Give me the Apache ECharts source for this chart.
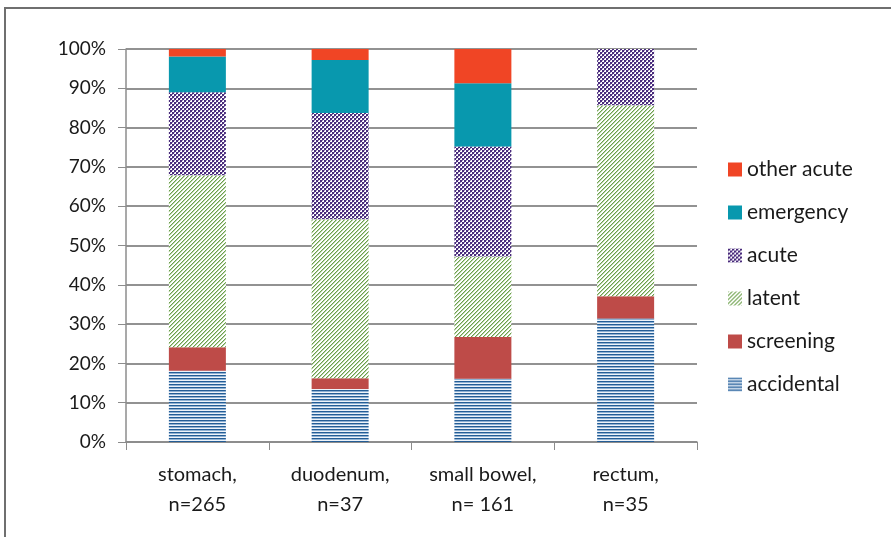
<!DOCTYPE html>
<html>
<head>
<meta charset="utf-8">
<script src="https://cdn.jsdelivr.net/npm/echarts@6/dist/echarts.min.js"></script>
<style>
  html, body { margin: 0; padding: 0; background: #fff; }
  #chart { width: 891px; height: 537px; }
</style>
</head>
<body>
<div id="chart"></div>
<script>
// Site of the lesion and how it was found (percent of cases per site)
const categories = ['stomach,\nn=265', 'duodenum,\nn=37', 'small bowel,\nn= 161', 'rectum,\nn=35'];

const accidental = [18.1, 13.5, 16.1, 31.4];
const screening  = [6.0, 2.7, 10.6, 5.7];
const latent     = [43.8, 40.5, 20.5, 48.6];
const acute      = [21.1, 27.0, 28.0, 14.3];
const emergency  = [9.1, 13.5, 16.1, 0];
const otherAcute = [1.9, 2.8, 8.7, 0];

const yTicks = { min: 0, max: 100, interval: 10 };

const FONT = 'Lato, "Open Sans", sans-serif';

// Small repeating fills for the hatched series
function makePattern(w, h, paint) {
  const c = document.createElement('canvas');
  c.width = w; c.height = h;
  const ctx = c.getContext('2d');
  ctx.fillStyle = '#ffffff';
  ctx.fillRect(0, 0, w, h);
  paint(ctx);
  return { image: c, repeat: 'repeat' };
}

// horizontal blue stripes
const stripeFill = makePattern(1, 3, ctx => {
  ctx.fillStyle = '#245d96'; ctx.fillRect(0, 0, 1, 1);
  ctx.fillStyle = '#8fb1d3'; ctx.fillRect(0, 1, 1, 1);
  ctx.fillStyle = '#eef3f9'; ctx.fillRect(0, 2, 1, 1);
});

// green upward diagonals
const diagFill = makePattern(4, 4, ctx => {
  for (let i = 0; i < 4; i++) {
    ctx.fillStyle = '#6b9f4b'; ctx.fillRect(i, 3 - i, 1, 1);
    ctx.fillStyle = '#b9d3a8'; ctx.fillRect(i, (4 - i) % 4, 1, 1);
  }
});

// purple checkerboard
const checkFill = makePattern(4, 4, ctx => {
  ctx.fillStyle = '#4a2c7c';
  ctx.fillRect(0, 0, 2, 2);
  ctx.fillRect(2, 2, 2, 2);
  ctx.fillStyle = '#9c8bbb';
  ctx.fillRect(2, 0, 1, 1);
  ctx.fillRect(0, 2, 1, 1);
});

function bar(name, data, color) {
  return {
    name, type: 'bar', stack: 'total', data,
    barWidth: 57,
    itemStyle: { color },
    emphasis: { disabled: true }
  };
}

const chart = echarts.init(document.getElementById('chart'), null, { renderer: 'canvas' });

chart.setOption({
  animation: false,
  backgroundColor: '#ffffff',
  textStyle: { fontFamily: FONT },
  graphic: [{
    type: 'rect',
    shape: { x: 5, y: 8, width: 900, height: 560 },
    style: { fill: 'none', stroke: '#6f6f6f', lineWidth: 2 },
    silent: true, z: -1
  }],
  grid: { left: 126, right: 194, top: 49, bottom: 95 },
  legend: {
    orient: 'vertical',
    left: 728, top: 159,
    padding: 0,
    itemWidth: 14, itemHeight: 14,
    itemGap: 22,
    icon: 'rect',
    textStyle: { fontFamily: FONT, fontSize: 21, color: '#1a1a1a' },
    data: ['other acute', 'emergency', 'acute', 'latent', 'screening', 'accidental']
  },
  xAxis: {
    type: 'category',
    data: categories,
    axisLine: { lineStyle: { color: '#8c8c8c', width: 1.5 } },
    axisTick: { show: true, length: 8, lineStyle: { color: '#8c8c8c' } },
    axisLabel: {
      fontFamily: FONT, fontSize: 20, color: '#1a1a1a',
      lineHeight: 30, margin: 18, interval: 0
    }
  },
  yAxis: {
    type: 'value',
    min: yTicks.min, max: yTicks.max, interval: yTicks.interval,
    axisLine: { show: true, lineStyle: { color: '#8c8c8c', width: 1.5 } },
    axisTick: { show: true, length: 8, lineStyle: { color: '#8c8c8c' } },
    axisLabel: {
      formatter: '{value}%', fontFamily: FONT, fontSize: 19,
      color: '#1a1a1a', margin: 20
    },
    splitLine: { show: true, lineStyle: { color: '#929292', width: 2 } }
  },
  series: [
    bar('accidental', accidental, stripeFill),
    bar('screening', screening, '#be4b48'),
    bar('latent', latent, diagFill),
    bar('acute', acute, checkFill),
    bar('emergency', emergency, '#0898ae'),
    bar('other acute', otherAcute, '#f04525')
  ]
});
</script>
</body>
</html>
